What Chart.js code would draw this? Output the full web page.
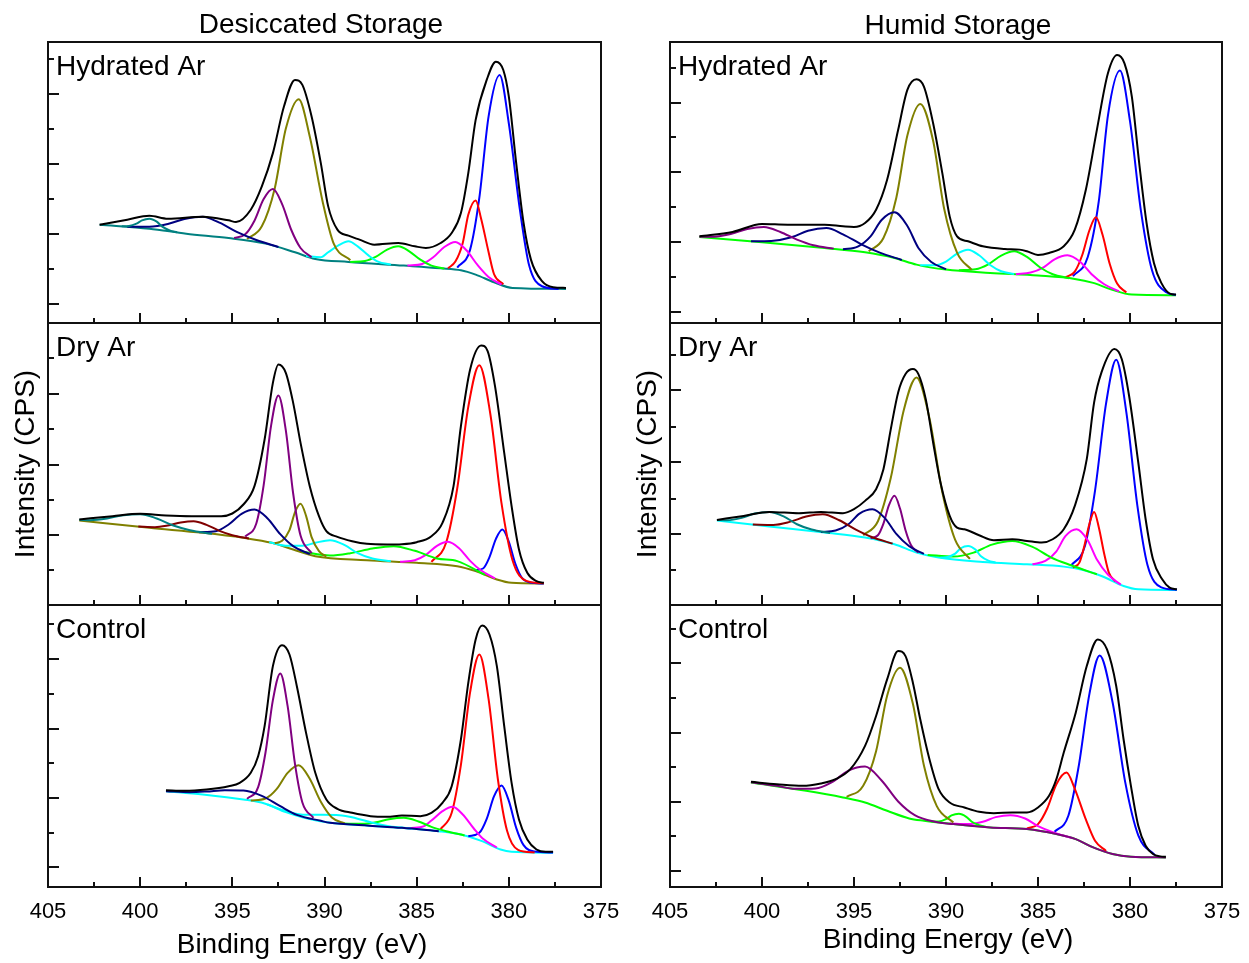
<!DOCTYPE html>
<html>
<head>
<meta charset="utf-8">
<script src="https://cdn.jsdelivr.net/npm/chart.js@4.4.0/dist/chart.umd.min.js"></script>
<style>
  html, body { margin: 0; padding: 0; background: #fff; }
  #page { position: relative; width: 1249px; height: 963px; overflow: hidden; background: #fff; }
  #page canvas { position: absolute; }
</style>
</head>
<body>
<div id="page">
  <canvas id="desHyd" width="625" height="325" style="left:0px;top:0px"></canvas>
  <canvas id="desDry" width="625" height="286" style="left:0px;top:321px"></canvas>
  <canvas id="desCtl" width="625" height="360" style="left:0px;top:603px"></canvas>
  <canvas id="humHyd" width="625" height="325" style="left:622px;top:0px"></canvas>
  <canvas id="humDry" width="625" height="286" style="left:622px;top:321px"></canvas>
  <canvas id="humCtl" width="625" height="355" style="left:622px;top:603px"></canvas>
</div>
<script>
// ── Axis ticks (binding energy, eV) ─────────────────────────
const xMajorTicks = [375, 380, 385, 390, 395, 400, 405];
const xMinorTicks = [377.5, 382.5, 387.5, 392.5, 397.5, 402.5];

// ── Desiccated storage / Hydrated Ar  [eV, counts] ──────────
const desHydEnvelope = [[402.2,415],[400.7,430],[399.5,442],[398.5,433],[396.6,439],[395.2,428],[394.8,423],[394.0,460],[393.4,530],[392.8,630],[392.2,770],[391.6,850],[391.2,835],[390.7,740],[390.2,600],[389.8,470],[389.3,400],[388.7,382],[388.1,370],[387.3,355],[386.0,360],[385.1,350],[384.5,345],[383.7,360],[383.1,390],[382.6,450],[382.2,570],[381.8,730],[381.2,850],[380.7,905],[380.3,880],[380.0,800],[379.6,600],[379.2,420],[378.8,310],[378.2,245],[377.6,227],[376.9,225]];
const desHydBase = [[402.2,415],[399.5,403],[397.5,388],[395.2,375],[393.2,358],[391.6,332],[390.5,312],[388.7,303],[385.7,292],[383.7,284],[382.6,278],[381.8,265],[380.8,242],[379.8,225],[376.9,222]];
const desHydTeal = [[401.0,410],[400.6,411],[400.2,418],[399.9,428],[399.5,433],[399.1,424],[398.8,409],[398.4,398],[398.0,392]];
const desHydNavy = [[400.7,409],[399.5,409],[398.5,417],[397.6,432],[396.6,439],[395.7,421],[394.7,392],[393.7,369],[392.5,348]];
const desHydPurple = [[394.9,375],[394.3,386],[393.8,427],[393.3,492],[392.8,522],[392.3,477],[391.8,399],[391.3,345],[390.7,317]];
const desHydOlive = [[394.2,372],[393.4,410],[392.7,524],[392.1,703],[391.4,792],[390.8,680],[390.1,484],[389.5,358],[388.6,308]];
const desHydCyan = [[391.0,321],[390.2,317],[389.8,332],[389.2,354],[388.7,365],[388.2,350],[387.6,322],[387.1,304],[386.4,295]];
const desHydGreen = [[388.6,303],[387.8,306],[387.2,319],[386.6,340],[386.0,350],[385.4,335],[384.8,310],[384.2,292],[383.5,283]];
const desHydMagenta = [[385.5,292],[384.7,297],[384.1,317],[383.5,348],[382.9,363],[382.3,338],[381.7,294],[381.1,258],[380.4,235]];
const desHydRed = [[383.3,284],[382.9,304],[382.5,360],[382.2,445],[381.8,488],[381.5,432],[381.1,333],[380.8,266],[380.3,236]];
const desHydBlue = [[382.8,286],[382.1,340],[381.6,496],[381.1,740],[380.5,865],[380.0,719],[379.4,460],[378.9,293],[378.2,230],[377.3,222]];
const desHydYMajor = [177, 387, 597, 808];
const desHydYMinor = [282, 492, 703, 913];

// ── Humid storage / Hydrated Ar ─────────────────────────────
const humHydEnvelope = [[403.4,380],[401.6,393],[400.0,417],[398.6,415],[396.6,415],[395.6,410],[395.0,408],[394.4,420],[393.8,460],[393.2,550],[392.6,700],[392.1,820],[391.6,852],[391.2,830],[390.7,720],[390.2,570],[389.8,440],[389.4,380],[388.8,365],[388.0,350],[386.8,342],[386.0,340],[385.6,335],[385.0,324],[384.4,330],[383.6,350],[383.0,400],[382.4,520],[381.8,700],[381.2,870],[380.7,925],[380.3,900],[379.9,800],[379.5,600],[379.1,420],[378.7,300],[378.3,240],[377.8,207],[377.5,205]];
const humHydBase = [[403.4,378],[400.0,362],[396.6,345],[394.4,332],[392.8,315],[391.6,295],[390.0,280],[387.6,270],[385.0,262],[383.0,252],[382.0,240],[381.0,220],[379.9,205],[377.5,203]];
const humHydPurple = [[403.4,379],[402.6,379],[401.7,387],[400.8,402],[399.9,408],[399.0,393],[398.1,370],[397.2,353],[396.1,343]];
const humHydNavy = [[400.6,365],[399.5,366],[398.4,377],[397.5,397],[396.5,405],[395.6,386],[394.6,356],[393.6,331],[392.4,309]];
const humHydNavy2 = [[395.6,341],[394.8,349],[394.1,380],[393.5,429],[392.8,452],[392.1,411],[391.5,345],[390.8,303],[390.0,281]];
const humHydOlive = [[394.2,335],[393.4,375],[392.7,496],[392.1,683],[391.4,778],[390.7,667],[390.1,463],[389.4,331],[388.6,279]];
const humHydCyan = [[391.4,293],[390.6,293],[390.0,304],[389.4,328],[388.8,340],[388.2,323],[387.6,294],[387.0,275],[386.3,267]];
const humHydGreen = [[389.3,278],[388.4,281],[387.7,296],[387.0,322],[386.3,335],[385.6,318],[384.9,287],[384.2,266],[383.3,254]];
const humHydMagenta = [[386.2,266],[385.4,271],[384.7,287],[384.1,311],[383.4,323],[382.7,303],[382.1,267],[381.4,236],[380.6,215]];
const humHydRed = [[383.5,257],[383.0,274],[382.6,323],[382.2,399],[381.85,437],[381.5,386],[381.1,297],[380.7,238],[380.2,211]];
const humHydBlue = [[383.1,260],[382.3,317],[381.7,484],[381.2,743],[380.55,878],[380.0,726],[379.4,454],[378.8,277],[378.0,211],[377.5,204]];
const humHydYMajor = [153, 363, 572, 782];
const humHydYMinor = [258, 467, 677, 887];

// ── Desiccated storage / Dry Ar ─────────────────────────────
const desDryEnvelope = [[403.3,400],[401.5,410],[400.0,417],[398.6,412],[397.2,410],[395.6,410],[395.0,418],[394.4,445],[393.8,500],[393.25,640],[392.8,810],[392.5,865],[392.1,840],[391.7,750],[391.3,630],[390.8,500],[390.3,410],[389.9,365],[389.3,348],[388.5,335],[387.7,327],[386.6,325],[385.8,326],[385.0,332],[384.2,350],[383.6,390],[383.0,500],[382.6,680],[382.1,850],[381.5,922],[381.15,905],[380.75,800],[380.25,600],[379.85,440],[379.45,310],[379.0,240],[378.5,215],[378.1,210]];
const desDryBase = [[403.3,397],[399.5,375],[396.6,360],[394.4,345],[392.85,330],[391.7,310],[390.5,290],[387.7,278],[385.0,270],[382.8,260],[381.8,245],[380.65,220],[379.85,210],[378.1,208]];
const desDryTeal = [[403.3,399],[402.7,398],[401.8,403],[400.9,413],[400.0,416],[399.1,403],[398.2,382],[397.3,368],[396.1,357]];
const desDryMaroon = [[400.1,379],[399.2,377],[398.5,382],[397.8,391],[397.1,395],[396.4,384],[395.7,366],[395.0,353],[394.1,343]];
const desDryNavy = [[396.8,362],[395.9,365],[395.2,385],[394.5,417],[393.8,430],[393.1,404],[392.4,356],[391.7,320],[390.8,296]];
const desDryPurple = [[394.3,349],[393.7,388],[393.3,503],[392.9,681],[392.5,772],[392.1,668],[391.7,478],[391.3,352],[390.7,299]];
const desDryOlive = [[392.7,329],[392.3,336],[391.9,368],[391.6,422],[391.3,447],[391.0,411],[390.7,347],[390.3,305],[389.9,289]];
const desDryCyan = [[393.0,332],[392.0,321],[391.2,321],[390.5,330],[389.7,338],[388.9,323],[388.2,299],[387.4,283],[386.4,275]];
const desDryGreen = [[391.2,303],[389.7,292],[388.6,299],[387.4,313],[386.25,320],[385.1,306],[383.9,283],[382.8,275],[381.3,234]];
const desDryMagenta = [[385.9,273],[385.1,278],[384.5,294],[383.9,321],[383.3,333],[382.7,314],[382.1,276],[381.5,247],[380.75,223]];
const desDryRed = [[384.2,273],[383.4,331],[382.8,493],[382.2,738],[381.6,863],[381.0,715],[380.4,450],[379.8,278],[379.05,216],[378.1,209]];
const desDryBlue = [[381.85,248],[381.4,253],[381.05,287],[380.7,342],[380.35,370],[380.0,333],[379.65,268],[379.3,226],[378.85,211],[378.1,208]];
const desDryYMajor = [353, 565, 778];
const desDryYMinor = [248, 459, 671, 884];

// ── Humid storage / Dry Ar ──────────────────────────────────
const humDryEnvelope = [[402.45,398],[401.0,410],[399.6,422],[398.0,418],[396.8,422],[395.6,418],[395.0,430],[394.4,455],[393.8,490],[393.4,550],[393.0,670],[392.6,780],[392.2,835],[391.8,850],[391.5,835],[391.1,760],[390.7,630],[390.3,510],[389.8,410],[389.4,375],[389.0,370],[388.2,352],[387.4,337],[386.4,340],[385.6,335],[384.8,330],[384.2,340],[383.6,370],[383.0,440],[382.35,580],[381.95,750],[381.55,840],[380.85,910],[380.45,880],[380.05,770],[379.55,570],[379.15,400],[378.75,280],[378.25,220],[377.85,195],[377.45,190]];
const humDryBase = [[402.45,396],[399.6,378],[396.6,360],[394.4,345],[392.8,325],[391.6,300],[390.4,285],[388.0,272],[385.6,265],[383.6,258],[382.55,248],[381.55,230],[380.35,200],[379.55,190],[377.45,188]];
const humDryTeal = [[402.45,398],[401.9,397],[401.1,404],[400.4,417],[399.6,422],[398.8,408],[398.1,385],[397.3,369],[396.3,359]];
const humDryMaroon = [[400.5,384],[399.4,383],[398.5,392],[397.6,408],[396.7,415],[395.8,397],[394.9,369],[394.0,346],[392.9,327]];
const humDryNavy = [[396.8,362],[396.0,366],[395.3,385],[394.7,417],[394.0,430],[393.3,402],[392.7,356],[392.0,319],[391.2,296]];
const humDryPurple = [[394.1,343],[393.7,352],[393.4,387],[393.1,442],[392.8,470],[392.5,432],[392.2,367],[391.9,322],[391.5,300]];
const humDryOlive = [[394.5,352],[393.7,394],[393.0,524],[392.3,726],[391.6,825],[390.9,703],[390.2,481],[389.5,338],[388.7,281]];
const humDryCyan = [[390.3,285],[389.9,287],[389.5,297],[389.2,313],[388.8,320],[388.4,309],[388.1,289],[387.7,276],[387.3,270]];
const humDryGreen = [[391.0,293],[389.6,288],[388.5,300],[387.5,324],[386.4,335],[385.3,317],[384.3,286],[383.2,262],[381.8,235]];
const humDryMagenta = [[385.3,265],[384.6,275],[384.0,304],[383.5,350],[382.9,370],[382.3,337],[381.8,279],[381.2,234],[380.5,204]];
const humDryRed = [[383.1,255],[382.75,270],[382.5,316],[382.2,387],[381.95,422],[381.7,377],[381.4,296],[381.15,240],[380.8,214]];
const humDryBlue = [[383.2,261],[382.45,320],[381.9,486],[381.3,747],[380.75,878],[380.2,721],[379.6,441],[379.05,263],[378.3,196],[377.45,189]];
const humDryYMajor = [356, 570, 787];
const humDryYMinor = [249, 462, 677, 893];

// ── Desiccated storage / Control ────────────────────────────
const desCtlEnvelope = [[398.6,428],[397.6,426],[396.4,430],[395.2,440],[394.6,450],[394.0,480],[393.6,530],[393.25,620],[392.8,800],[392.3,863],[391.9,835],[391.5,740],[391.0,600],[390.5,480],[389.9,400],[389.3,372],[388.5,360],[387.5,350],[386.6,348],[385.8,352],[384.8,350],[384.2,360],[383.6,390],[383.1,440],[382.6,580],[382.2,750],[381.8,880],[381.45,922],[381.05,895],[380.65,800],[380.25,620],[379.85,450],[379.45,340],[379.0,280],[378.5,250],[378.0,243],[377.6,243]];
const desCtlBase = [[398.6,425],[396.6,415],[394.4,400],[393.25,388],[392.1,362],[391.1,345],[389.7,330],[387.7,322],[385.8,315],[383.8,305],[382.6,295],[381.45,275],[380.45,250],[379.85,243],[377.6,240]];
const desCtlNavy = [[398.6,425],[397.3,422],[396.4,424],[395.4,428],[394.4,427],[393.4,411],[392.4,380],[391.5,354],[390.2,336],[389.7,330],[387.7,322],[385.8,315],[383.8,305]];
const desCtlPurple = [[394.2,402],[393.6,437],[393.2,541],[392.8,698],[392.4,778],[392.0,680],[391.6,506],[391.2,391],[390.6,345]];
const desCtlOlive = [[394.0,397],[393.2,403],[392.6,431],[392.0,480],[391.4,503],[390.8,462],[390.2,393],[389.6,346],[388.9,328]];
const desCtlCyan = [[393.1,385],[391.9,362],[391.0,354],[390.1,354],[389.2,353],[388.3,344],[387.4,330],[386.5,320],[385.3,313]];
const desCtlGreen = [[389.0,328],[388.0,327],[387.2,332],[386.5,341],[385.7,345],[384.9,334],[384.2,318],[383.4,305],[382.4,292]];
const desCtlMagenta = [[385.5,314],[384.7,318],[384.2,337],[383.6,365],[383.05,378],[382.5,355],[381.9,313],[381.4,282],[380.65,256]];
const desCtlRed = [[383.7,311],[383.1,360],[382.6,504],[382.1,722],[381.6,835],[381.1,702],[380.6,463],[380.1,307],[379.5,249],[378.6,241]];
const desCtlBlue = [[382.2,290],[381.6,300],[381.2,342],[380.8,410],[380.4,442],[380.0,396],[379.6,315],[379.2,263],[378.6,244],[377.6,241]];
const desCtlYMajor = [197, 405, 613, 822];
const desCtlYMinor = [300, 509, 717, 926];

// ── Humid storage / Control ─────────────────────────────────
const humCtlEnvelope = [[400.6,452],[399.2,445],[397.8,440],[396.8,447],[396.0,460],[395.2,490],[394.4,560],[393.8,650],[393.2,760],[392.6,845],[392.2,830],[391.8,750],[391.4,640],[390.9,520],[390.4,430],[389.8,390],[389.0,375],[388.2,362],[387.4,358],[386.4,360],[385.6,360],[385.0,375],[384.4,410],[384.0,460],[383.6,540],[382.95,660],[382.35,800],[381.75,880],[381.25,850],[380.75,740],[380.35,580],[379.95,440],[379.55,320],[379.15,260],[378.75,235],[378.35,228],[378.05,227]];
const humCtlBase = [[400.6,450],[397.6,425],[395.6,405],[394.4,390],[393.2,365],[392.0,342],[391.2,335],[389.6,325],[387.6,315],[385.6,310],[384.0,295],[382.95,280],[382.0,255],[380.95,235],[379.95,227],[378.05,225]];
const humCtlPurple = [[400.6,451],[399.2,440],[398.2,431],[397.1,432],[396.2,451],[395.3,486],[394.4,498],[393.5,456],[392.6,393],[391.7,352],[390.6,332],[389.6,325],[387.6,315],[385.6,310],[384.0,295],[382.95,280],[382.0,255],[380.95,235],[379.95,227],[378.05,225]];
const humCtlOlive = [[395.4,407],[394.5,440],[393.8,544],[393.2,711],[392.5,795],[391.8,687],[391.2,501],[390.5,379],[389.6,330]];
const humCtlGreen = [[390.8,333],[390.4,333],[390.0,340],[389.7,351],[389.3,356],[388.9,347],[388.6,332],[388.2,322],[387.8,316]];
const humCtlMagenta = [[389.8,327],[388.8,325],[388.0,332],[387.3,346],[386.5,352],[385.7,342],[385.0,319],[384.2,301],[383.2,284]];
const humCtlRed = [[385.6,312],[385.0,325],[384.5,372],[384.0,445],[383.45,480],[383.0,431],[382.4,339],[381.9,275],[381.3,244]];
const humCtlBlue = [[384.1,302],[383.35,350],[382.8,495],[382.2,718],[381.65,832],[380.95,692],[380.25,448],[379.55,291],[378.65,232]];
const humCtlYMajor = [184, 392, 600, 808];
const humCtlYMinor = [288, 496, 704, 912];

// ── Styles ──────────────────────────────────────────────────
const FONT = '"Liberation Sans", Arial, sans-serif';
const COL = {
    env: '#000000', teal: '#008080', navy: '#000080', purple: '#800080', olive: '#808000',
    cyan: '#00FFFF', green: '#00FF00', magenta: '#FF00FF', red: '#FF0000', blue: '#0000FF', maroon: '#800000'
};

// frame, inward ticks and free text for every panel
const panelDecor = {
    id: 'panelDecor',
    afterDatasetsDraw(chart, args, opts) {
        const { ctx, chartArea: a, scales: { x, y } } = chart;
        ctx.save();
        ctx.strokeStyle = '#111';
        ctx.lineWidth = 2;
        ctx.beginPath();
        const xTick = (v, len) => { const px = Math.round(x.getPixelForValue(v)); ctx.moveTo(px, a.bottom); ctx.lineTo(px, a.bottom - len); };
        const yTick = (v, len) => { const py = Math.round(y.getPixelForValue(v)); ctx.moveTo(a.left, py); ctx.lineTo(a.left + len, py); };
        xMajorTicks.forEach(v => xTick(v, 10));
        xMinorTicks.forEach(v => xTick(v, 5));
        opts.yMajor.forEach(v => yTick(v, 11));
        opts.yMinor.forEach(v => yTick(v, 6));
        ctx.stroke();
        ctx.strokeRect(a.left, a.top, a.width, a.height);

        ctx.fillStyle = '#000';
        ctx.font = `28px ${FONT}`;
        ctx.textBaseline = 'alphabetic';
        ctx.textAlign = 'left';
        ctx.fillText(opts.label, a.left + 8, a.top + 33);
        ctx.textAlign = 'center';
        (opts.texts || []).forEach(t => ctx.fillText(t.text, t.x, t.y));
        ctx.restore();
    }
};

function curve(points, color) {
    return {
        data: points.map(p => ({ x: p[0], y: p[1] })),
        borderColor: color,
        borderWidth: 2,
        pointRadius: 0,
        fill: false,
        cubicInterpolationMode: 'monotone'
    };
}

function makePanel(spec) {
    const datasets = [curve(spec.envelope, COL.env)]
        .concat(spec.parts.map(p => curve(p[0], p[1])))
        .concat([curve(spec.base, spec.baseColor)]);

    return new Chart(document.getElementById(spec.id), {
        type: 'line',
        data: { datasets },
        options: {
            responsive: false,
            animation: false,
            events: [],
            layout: { padding: spec.pad },
            plugins: {
                legend: { display: false },
                tooltip: { enabled: false },
                panelDecor: { label: spec.label, yMajor: spec.yMajor, yMinor: spec.yMinor, texts: spec.texts }
            },
            scales: {
                x: {
                    type: 'linear', reverse: true, min: 375, max: 405,
                    afterBuildTicks: s => { s.ticks = xMajorTicks.map(v => ({ value: v })); },
                    ticks: { display: spec.xLabels, autoSkip: false, padding: 12, color: '#000', font: { family: FONT, size: 22 } },
                    grid: { display: false, drawTicks: false },
                    border: { display: false },
                    afterFit: s => { s.height = spec.xHeight; }
                },
                y: {
                    type: 'linear', min: spec.yMin, max: spec.yMax,
                    ticks: { display: false },
                    grid: { display: false, drawTicks: false },
                    border: { display: false },
                    title: {
                        display: !!spec.yTitle, text: 'Intensity (CPS)', color: '#000',
                        font: { family: FONT, size: 28 }, padding: { top: 9, bottom: 0 }
                    },
                    afterFit: s => { s.width = 48; }
                }
            }
        },
        plugins: [panelDecor]
    });
}

// ── Build panels ────────────────────────────────────────────
document.addEventListener('DOMContentLoaded', () => {
    const leftPad = { top: 2, right: 24, bottom: 2, left: 0 };
    const rightPad = { top: 2, right: 25, bottom: 2, left: 0 };

    makePanel({
        id: 'desHyd', label: 'Hydrated Ar', envelope: desHydEnvelope, base: desHydBase, baseColor: COL.teal,
        parts: [[desHydTeal, COL.teal], [desHydNavy, COL.navy], [desHydPurple, COL.purple], [desHydOlive, COL.olive],
                [desHydCyan, COL.cyan], [desHydGreen, COL.green], [desHydMagenta, COL.magenta], [desHydRed, COL.red], [desHydBlue, COL.blue]],
        yMin: 119.5, yMax: 964, yMajor: desHydYMajor, yMinor: desHydYMinor,
        pad: { top: 42, right: 24, bottom: 2, left: 0 }, xHeight: 0, xLabels: false,
        texts: [{ text: 'Desiccated Storage', x: 321, y: 33 }]
    });
    makePanel({
        id: 'desDry', label: 'Dry Ar', envelope: desDryEnvelope, base: desDryBase, baseColor: COL.olive,
        parts: [[desDryTeal, COL.teal], [desDryMaroon, COL.maroon], [desDryNavy, COL.navy], [desDryPurple, COL.purple], [desDryOlive, COL.olive],
                [desDryCyan, COL.cyan], [desDryGreen, COL.green], [desDryMagenta, COL.magenta], [desDryRed, COL.red], [desDryBlue, COL.blue]],
        yMin: 143.5, yMax: 989.5, yMajor: desDryYMajor, yMinor: desDryYMinor,
        pad: leftPad, xHeight: 0, xLabels: false, yTitle: true
    });
    makePanel({
        id: 'desCtl', label: 'Control', envelope: desCtlEnvelope, base: desCtlBase, baseColor: COL.cyan,
        parts: [[desCtlNavy, COL.navy], [desCtlPurple, COL.purple], [desCtlOlive, COL.olive], [desCtlCyan, COL.cyan],
                [desCtlGreen, COL.green], [desCtlMagenta, COL.magenta], [desCtlRed, COL.red], [desCtlBlue, COL.blue]],
        yMin: 137.5, yMax: 983.5, yMajor: desCtlYMajor, yMinor: desCtlYMinor,
        pad: leftPad, xHeight: 74, xLabels: true,
        texts: [{ text: 'Binding Energy (eV)', x: 302, y: 350 }]
    });
    makePanel({
        id: 'humHyd', label: 'Hydrated Ar', envelope: humHydEnvelope, base: humHydBase, baseColor: COL.green,
        parts: [[humHydPurple, COL.purple], [humHydNavy, COL.navy], [humHydNavy2, COL.navy], [humHydOlive, COL.olive],
                [humHydCyan, COL.cyan], [humHydGreen, COL.green], [humHydMagenta, COL.magenta], [humHydRed, COL.red], [humHydBlue, COL.blue]],
        yMin: 119.5, yMax: 964, yMajor: humHydYMajor, yMinor: humHydYMinor,
        pad: { top: 42, right: 25, bottom: 2, left: 0 }, xHeight: 0, xLabels: false,
        texts: [{ text: 'Humid Storage', x: 336, y: 34 }]
    });
    makePanel({
        id: 'humDry', label: 'Dry Ar', envelope: humDryEnvelope, base: humDryBase, baseColor: COL.cyan,
        parts: [[humDryTeal, COL.teal], [humDryMaroon, COL.maroon], [humDryNavy, COL.navy], [humDryPurple, COL.purple], [humDryOlive, COL.olive],
                [humDryCyan, COL.cyan], [humDryGreen, COL.green], [humDryMagenta, COL.magenta], [humDryRed, COL.red], [humDryBlue, COL.blue]],
        yMin: 143, yMax: 988, yMajor: humDryYMajor, yMinor: humDryYMinor,
        pad: rightPad, xHeight: 0, xLabels: false, yTitle: true
    });
    makePanel({
        id: 'humCtl', label: 'Control', envelope: humCtlEnvelope, base: humCtlBase, baseColor: COL.green,
        parts: [[humCtlPurple, COL.purple], [humCtlOlive, COL.olive], [humCtlGreen, COL.green], [humCtlMagenta, COL.magenta],
                [humCtlRed, COL.red], [humCtlBlue, COL.blue]],
        yMin: 136, yMax: 983.5, yMajor: humCtlYMajor, yMinor: humCtlYMinor,
        pad: rightPad, xHeight: 69, xLabels: true,
        texts: [{ text: 'Binding Energy (eV)', x: 326, y: 345 }]
    });
});
</script>
</body>
</html>
